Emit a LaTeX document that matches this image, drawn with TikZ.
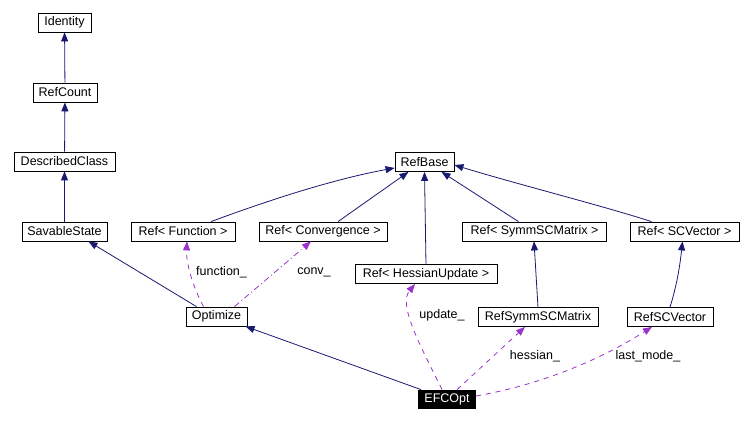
\documentclass[tikz,border=0pt]{standalone}
\usepackage{fontspec}
\setmainfont{Liberation Sans}
\usetikzlibrary{arrows.meta}
\definecolor{inhblue}{HTML}{191970}
\definecolor{usepurple}{HTML}{9A32CD}
\tikzset{
  cls/.style={draw, line width=0.8pt, minimum height=19pt, inner sep=0pt,
    font=\fontsize{12.5}{14}\selectfont},
  current/.style={cls, fill=black, text=white},
  inh/.style={draw=inhblue, line width=0.8pt, -{Triangle[length=9pt,width=7pt]}},
  usage/.style={draw=usepurple, line width=0.8pt, dash pattern=on 5pt off 5pt,
    -{Triangle[length=9pt,width=7pt]}},
  lbl/.style={font=\fontsize{12.5}{14}\selectfont}
}

\begin{document}
\begin{tikzpicture}[x=1pt, y=-1pt]
  \useasboundingbox (0,0) rectangle (753,422);
  % classes
  \node[cls, minimum width=53pt]  (Identity)  at (64.5,22.5)  {Identity};
  \node[cls, minimum width=64pt]  (RefCount)  at (65,92.5)    {RefCount};
  \node[cls, minimum width=101pt] (Described) at (64.5,161.5) {DescribedClass};
  \node[cls, minimum width=85pt]  (Savable)   at (64.5,231.5) {SavableState};
  \node[cls, minimum width=59pt]  (RefBase)   at (424.5,162)  {RefBase};
  \node[cls, minimum width=104pt] (RefFunc)   at (183,231.5)  {Ref< Function >};
  \node[cls, minimum width=128pt] (RefConv)   at (323,231.5)  {Ref< Convergence >};
  \node[cls, minimum width=144pt] (RefSymm)   at (534.5,231.5) {Ref< SymmSCMatrix >};
  \node[cls, minimum width=109pt] (RefVec)    at (684.5,231.5) {Ref< SCVector >};
  \node[cls, minimum width=142pt] (RefHess)   at (426,274)    {Ref< HessianUpdate >};
  \node[cls, minimum width=61pt]  (Optimize)  at (216.5,316.5) {Optimize};
  \node[cls, minimum width=120pt] (SymmMat)   at (538,317)    {RefSymmSCMatrix};
  \node[cls, minimum width=86pt]  (SCVec)     at (670,317)    {RefSCVector};
  \node[current, minimum width=57pt, minimum height=18pt] (EFCOpt) at (447,399) {EFCOpt};
  % inheritance
  \draw[inh] (RefCount) -- (Identity);
  \draw[inh] (Described) -- (RefCount);
  \draw[inh] (Savable) -- (Described);
  \draw[inh] ([xshift=-20pt]Optimize.north) -- ([xshift=24pt]Savable.south);
  \draw[inh] ([xshift=-26pt]EFCOpt.north) -- ([xshift=29pt]Optimize.south);
  \draw[inh] ([xshift=28pt]RefFunc.north) .. controls (280,196) and (340,178) .. ([yshift=-6pt]RefBase.west);
  \draw[inh] ([xshift=15pt]RefConv.north) -- ([xshift=-16pt]RefBase.south);
  \draw[inh] (RefHess.north) -- (RefBase.south);
  \draw[inh] ([xshift=-16pt]RefSymm.north) -- ([xshift=17pt]RefBase.south);
  \draw[inh] ([xshift=-33pt]RefVec.north) .. controls (600,205) and (520,185) .. ([yshift=-3pt]RefBase.east);
  \draw[inh] (SymmMat.north) -- ([xshift=-0.5pt]RefSymm.south);
  \draw[inh] (SCVec.north) .. controls (677,285) and (680,265) .. ([xshift=-2pt]RefVec.south);
  % usage
  \draw[usage] ([xshift=-13pt]Optimize.north) .. controls (192,285) and (186,262) .. ([xshift=4pt]RefFunc.south);
  \draw[usage, dash pattern=on 6pt off 3pt on 1pt off 3pt] ([xshift=18pt]Optimize.north) -- ([xshift=-12pt]RefConv.south);
  \draw[usage] ([xshift=-5pt]EFCOpt.north) .. controls (420,345) and (398,305) .. ([xshift=-11pt]RefHess.south);
  \draw[usage] ([xshift=10pt]EFCOpt.north) -- ([xshift=-13pt]SymmMat.south);
  \draw[usage] ([yshift=3pt]EFCOpt.east) .. controls (540,385) and (600,360) .. ([xshift=-18pt]SCVec.south);
  % labels
  \node[lbl] (lFunc) at (221.5,272) {function\_};
  \node[lbl] (lConv) at (314,272)   {conv\_};
  \node[lbl] (lUpd)  at (442,315)   {update\_};
  \node[lbl] (lHess) at (535,356)   {hessian\_};
  \node[lbl] (lLast) at (648,356)   {last\_mode\_};
\end{tikzpicture}
\end{document}
